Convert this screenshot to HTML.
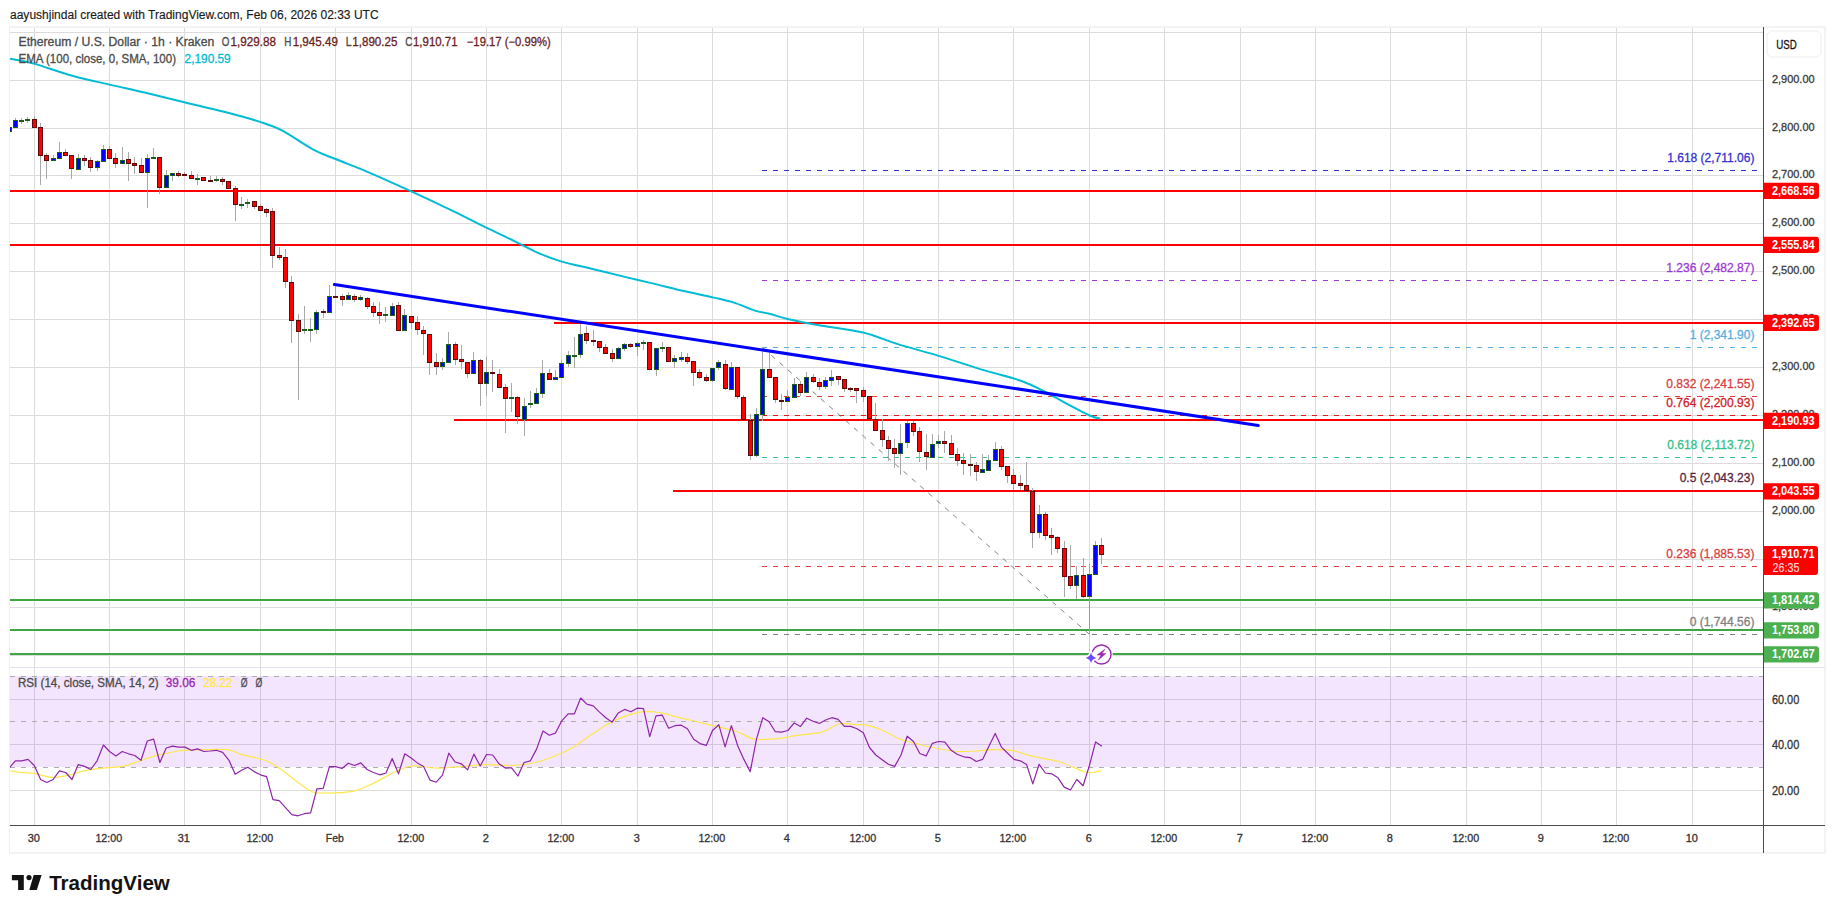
<!DOCTYPE html>
<html><head><meta charset="utf-8"><title>ETHUSD</title>
<style>html,body{margin:0;padding:0;background:#fff;width:1835px;height:913px;overflow:hidden} svg.chart{display:block;font-family:"Liberation Sans", sans-serif}</style>
</head><body>
<svg width="1835" height="913" viewBox="0 0 1835 913" class="chart"><rect x="0" y="0" width="1835" height="913" fill="#ffffff"/><rect x="9" y="26" width="1817" height="2" fill="#f3f3f3"/><rect x="9" y="852" width="1817" height="2" fill="#f3f3f3"/><rect x="9" y="26" width="1" height="828" fill="#f0f0f0"/><rect x="1824" y="26" width="2" height="828" fill="#f3f3f3"/><defs><clipPath id="cm"><rect x="10" y="28" width="1753" height="639"/></clipPath><clipPath id="cr"><rect x="10" y="668" width="1753" height="157"/></clipPath></defs><rect x="34" y="28" width="1" height="639" fill="#dcdcdc"/><rect x="34" y="668" width="1" height="157" fill="#dcdcdc"/><rect x="109" y="28" width="1" height="639" fill="#dcdcdc"/><rect x="109" y="668" width="1" height="157" fill="#dcdcdc"/><rect x="184" y="28" width="1" height="639" fill="#dcdcdc"/><rect x="184" y="668" width="1" height="157" fill="#dcdcdc"/><rect x="260" y="28" width="1" height="639" fill="#dcdcdc"/><rect x="260" y="668" width="1" height="157" fill="#dcdcdc"/><rect x="335" y="28" width="1" height="639" fill="#dcdcdc"/><rect x="335" y="668" width="1" height="157" fill="#dcdcdc"/><rect x="411" y="28" width="1" height="639" fill="#dcdcdc"/><rect x="411" y="668" width="1" height="157" fill="#dcdcdc"/><rect x="486" y="28" width="1" height="639" fill="#dcdcdc"/><rect x="486" y="668" width="1" height="157" fill="#dcdcdc"/><rect x="561" y="28" width="1" height="639" fill="#dcdcdc"/><rect x="561" y="668" width="1" height="157" fill="#dcdcdc"/><rect x="637" y="28" width="1" height="639" fill="#dcdcdc"/><rect x="637" y="668" width="1" height="157" fill="#dcdcdc"/><rect x="712" y="28" width="1" height="639" fill="#dcdcdc"/><rect x="712" y="668" width="1" height="157" fill="#dcdcdc"/><rect x="787" y="28" width="1" height="639" fill="#dcdcdc"/><rect x="787" y="668" width="1" height="157" fill="#dcdcdc"/><rect x="863" y="28" width="1" height="639" fill="#dcdcdc"/><rect x="863" y="668" width="1" height="157" fill="#dcdcdc"/><rect x="938" y="28" width="1" height="639" fill="#dcdcdc"/><rect x="938" y="668" width="1" height="157" fill="#dcdcdc"/><rect x="1013" y="28" width="1" height="639" fill="#dcdcdc"/><rect x="1013" y="668" width="1" height="157" fill="#dcdcdc"/><rect x="1089" y="28" width="1" height="639" fill="#dcdcdc"/><rect x="1089" y="668" width="1" height="157" fill="#dcdcdc"/><rect x="1164" y="28" width="1" height="639" fill="#dcdcdc"/><rect x="1164" y="668" width="1" height="157" fill="#dcdcdc"/><rect x="1240" y="28" width="1" height="639" fill="#dcdcdc"/><rect x="1240" y="668" width="1" height="157" fill="#dcdcdc"/><rect x="1315" y="28" width="1" height="639" fill="#dcdcdc"/><rect x="1315" y="668" width="1" height="157" fill="#dcdcdc"/><rect x="1390" y="28" width="1" height="639" fill="#dcdcdc"/><rect x="1390" y="668" width="1" height="157" fill="#dcdcdc"/><rect x="1466" y="28" width="1" height="639" fill="#dcdcdc"/><rect x="1466" y="668" width="1" height="157" fill="#dcdcdc"/><rect x="1541" y="28" width="1" height="639" fill="#dcdcdc"/><rect x="1541" y="668" width="1" height="157" fill="#dcdcdc"/><rect x="1616" y="28" width="1" height="639" fill="#dcdcdc"/><rect x="1616" y="668" width="1" height="157" fill="#dcdcdc"/><rect x="1692" y="28" width="1" height="639" fill="#dcdcdc"/><rect x="1692" y="668" width="1" height="157" fill="#dcdcdc"/><rect x="10" y="32" width="1753" height="1" fill="#dcdcdc"/><rect x="10" y="80" width="1753" height="1" fill="#dcdcdc"/><rect x="10" y="128" width="1753" height="1" fill="#dcdcdc"/><rect x="10" y="175" width="1753" height="1" fill="#dcdcdc"/><rect x="10" y="223" width="1753" height="1" fill="#dcdcdc"/><rect x="10" y="271" width="1753" height="1" fill="#dcdcdc"/><rect x="10" y="319" width="1753" height="1" fill="#dcdcdc"/><rect x="10" y="367" width="1753" height="1" fill="#dcdcdc"/><rect x="10" y="415" width="1753" height="1" fill="#dcdcdc"/><rect x="10" y="463" width="1753" height="1" fill="#dcdcdc"/><rect x="10" y="511" width="1753" height="1" fill="#dcdcdc"/><rect x="10" y="559" width="1753" height="1" fill="#dcdcdc"/><rect x="10" y="607" width="1753" height="1" fill="#dcdcdc"/><rect x="10" y="655" width="1753" height="1" fill="#dcdcdc"/><rect x="10" y="699" width="1753" height="1" fill="#dcdcdc"/><rect x="10" y="744" width="1753" height="1" fill="#dcdcdc"/><rect x="10" y="790" width="1753" height="1" fill="#dcdcdc"/><rect x="10" y="676" width="1753" height="91" fill="#9500ff" fill-opacity="0.1"/><line x1="10" y1="676.5" x2="1763" y2="676.5" stroke="#adadad" stroke-width="1" stroke-dasharray="5,6"/><line x1="10" y1="721.5" x2="1763" y2="721.5" stroke="#adadad" stroke-width="1" stroke-dasharray="5,6"/><line x1="10" y1="767.5" x2="1763" y2="767.5" stroke="#adadad" stroke-width="1" stroke-dasharray="5,6"/><rect x="10" y="667" width="1815" height="1" fill="#e0e3eb"/><line x1="762" y1="170.5" x2="1757" y2="170.5" stroke="#3333cc" stroke-width="1" stroke-dasharray="5,6"/><line x1="762" y1="280.5" x2="1757" y2="280.5" stroke="#9c3ad6" stroke-width="1" stroke-dasharray="5,6"/><line x1="762" y1="347.5" x2="1757" y2="347.5" stroke="#5aaee0" stroke-width="1" stroke-dasharray="5,6"/><line x1="762" y1="396.5" x2="1757" y2="396.5" stroke="#e03c3c" stroke-width="1" stroke-dasharray="5,6"/><line x1="762" y1="415.5" x2="1757" y2="415.5" stroke="#e01e1e" stroke-width="1" stroke-dasharray="5,6"/><line x1="762" y1="457.5" x2="1757" y2="457.5" stroke="#33c28a" stroke-width="1" stroke-dasharray="5,6"/><line x1="762" y1="490.5" x2="1757" y2="490.5" stroke="#6a1f4a" stroke-width="1" stroke-dasharray="5,6"/><line x1="762" y1="566.5" x2="1757" y2="566.5" stroke="#e03c3c" stroke-width="1" stroke-dasharray="5,6"/><line x1="762" y1="634.5" x2="1757" y2="634.5" stroke="#808080" stroke-width="1" stroke-dasharray="5,6"/><rect x="10" y="190" width="1753" height="2" fill="#ff0000"/><rect x="10" y="244" width="1753" height="2" fill="#ff0000"/><rect x="554" y="322" width="1209" height="2" fill="#ff0000"/><rect x="454" y="419" width="1309" height="2" fill="#ff0000"/><rect x="673" y="490" width="1090" height="2" fill="#ff0000"/><rect x="10" y="599" width="1753" height="2" fill="#3da843"/><rect x="10" y="629" width="1753" height="2" fill="#3da843"/><rect x="10" y="653" width="1753" height="2" fill="#3da843"/><line x1="763" y1="348" x2="1089" y2="634" stroke="#808080" stroke-width="1" stroke-dasharray="5,6"/><path d="M10.10,58.80 C14.03,59.60 23.33,60.78 33.70,63.60 C44.07,66.42 59.65,72.20 72.30,75.70 C84.95,79.20 97.55,81.80 109.60,84.60 C121.65,87.40 132.15,89.57 144.60,92.50 C157.05,95.43 171.05,98.98 184.30,102.20 C197.55,105.42 211.45,108.52 224.10,111.80 C236.75,115.08 250.57,118.80 260.20,121.90 C269.83,125.00 273.05,125.78 281.90,130.40 C290.75,135.02 304.27,144.78 313.30,149.60 C322.33,154.42 327.27,155.68 336.10,159.30 C344.93,162.92 354.05,166.08 366.30,171.30 C378.55,176.52 395.03,183.93 409.60,190.60 C424.17,197.27 441.52,205.43 453.70,211.30 C465.88,217.17 473.87,221.47 482.70,225.80 C491.53,230.13 497.87,232.97 506.70,237.30 C515.53,241.63 526.65,247.78 535.70,251.80 C544.75,255.82 551.37,258.50 561.00,261.40 C570.63,264.30 582.87,266.62 593.50,269.20 C604.13,271.78 615.17,274.58 624.80,276.90 C634.43,279.22 641.27,280.70 651.30,283.10 C661.33,285.50 674.55,288.88 685.00,291.30 C695.45,293.72 705.95,295.75 714.00,297.60 C722.05,299.45 726.48,300.23 733.30,302.40 C740.12,304.57 748.88,308.72 754.90,310.60 C760.92,312.48 763.77,312.25 769.40,313.70 C775.03,315.15 780.67,317.40 788.70,319.30 C796.73,321.20 805.23,322.90 817.60,325.10 C829.97,327.30 849.53,329.33 862.90,332.50 C876.27,335.67 884.75,340.08 897.80,344.10 C910.85,348.12 926.73,352.22 941.20,356.60 C955.67,360.98 971.35,366.38 984.60,370.40 C997.85,374.42 1010.67,377.17 1020.70,380.70 C1030.73,384.23 1037.17,387.78 1044.80,391.60 C1052.43,395.42 1059.02,399.62 1066.50,403.60 C1073.98,407.58 1084.10,413.00 1089.70,415.50 C1095.30,418.00 1098.37,418.08 1100.10,418.60" fill="none" stroke="#00bcd4" stroke-width="2" stroke-linejoin="round" clip-path="url(#cm)"/><g clip-path="url(#cm)"><rect x="9" y="127" width="1" height="5" fill="#a8a8a8"/><rect x="7" y="127" width="5" height="5" fill="#1b5e20"/><rect x="8" y="128" width="3" height="3" fill="#0000ff"/><rect x="15" y="118" width="1" height="10" fill="#a8a8a8"/><rect x="13" y="120" width="5" height="8" fill="#1b5e20"/><rect x="14" y="121" width="3" height="6" fill="#0000ff"/><rect x="21" y="118" width="1" height="6" fill="#a8a8a8"/><rect x="19" y="120" width="5" height="2" fill="#1b5e20"/><rect x="27" y="117" width="1" height="6" fill="#a8a8a8"/><rect x="25" y="119" width="5" height="2" fill="#1b5e20"/><rect x="34" y="116" width="1" height="12" fill="#a8a8a8"/><rect x="32" y="119" width="5" height="9" fill="#5c0a0a"/><rect x="33" y="120" width="3" height="7" fill="#ff0000"/><rect x="40" y="123" width="1" height="62" fill="#a8a8a8"/><rect x="38" y="127" width="5" height="29" fill="#5c0a0a"/><rect x="39" y="128" width="3" height="27" fill="#ff0000"/><rect x="46" y="153" width="1" height="26" fill="#a8a8a8"/><rect x="44" y="155" width="5" height="6" fill="#5c0a0a"/><rect x="45" y="156" width="3" height="4" fill="#ff0000"/><rect x="53" y="155" width="1" height="6" fill="#a8a8a8"/><rect x="51" y="158" width="5" height="3" fill="#1b5e20"/><rect x="52" y="159" width="3" height="1" fill="#0000ff"/><rect x="59" y="142" width="1" height="17" fill="#a8a8a8"/><rect x="57" y="152" width="5" height="7" fill="#1b5e20"/><rect x="58" y="153" width="3" height="5" fill="#0000ff"/><rect x="65" y="149" width="1" height="6" fill="#a8a8a8"/><rect x="63" y="152" width="5" height="4" fill="#5c0a0a"/><rect x="64" y="153" width="3" height="2" fill="#ff0000"/><rect x="71" y="155" width="1" height="24" fill="#a8a8a8"/><rect x="69" y="155" width="5" height="14" fill="#5c0a0a"/><rect x="70" y="156" width="3" height="12" fill="#ff0000"/><rect x="78" y="154" width="1" height="16" fill="#a8a8a8"/><rect x="76" y="158" width="5" height="12" fill="#1b5e20"/><rect x="77" y="159" width="3" height="10" fill="#0000ff"/><rect x="84" y="155" width="1" height="11" fill="#a8a8a8"/><rect x="82" y="158" width="5" height="3" fill="#5c0a0a"/><rect x="83" y="159" width="3" height="1" fill="#ff0000"/><rect x="90" y="157" width="1" height="15" fill="#a8a8a8"/><rect x="88" y="160" width="5" height="8" fill="#5c0a0a"/><rect x="89" y="161" width="3" height="6" fill="#ff0000"/><rect x="97" y="160" width="1" height="11" fill="#a8a8a8"/><rect x="95" y="161" width="5" height="7" fill="#1b5e20"/><rect x="96" y="162" width="3" height="5" fill="#0000ff"/><rect x="103" y="145" width="1" height="17" fill="#a8a8a8"/><rect x="101" y="149" width="5" height="13" fill="#1b5e20"/><rect x="102" y="150" width="3" height="11" fill="#0000ff"/><rect x="109" y="146" width="1" height="13" fill="#a8a8a8"/><rect x="107" y="149" width="5" height="10" fill="#5c0a0a"/><rect x="108" y="150" width="3" height="8" fill="#ff0000"/><rect x="115" y="153" width="1" height="15" fill="#a8a8a8"/><rect x="113" y="158" width="5" height="6" fill="#5c0a0a"/><rect x="114" y="159" width="3" height="4" fill="#ff0000"/><rect x="122" y="147" width="1" height="17" fill="#a8a8a8"/><rect x="120" y="160" width="5" height="4" fill="#1b5e20"/><rect x="121" y="161" width="3" height="2" fill="#0000ff"/><rect x="128" y="152" width="1" height="29" fill="#a8a8a8"/><rect x="126" y="159" width="5" height="5" fill="#5c0a0a"/><rect x="127" y="160" width="3" height="3" fill="#ff0000"/><rect x="134" y="157" width="1" height="17" fill="#a8a8a8"/><rect x="132" y="163" width="5" height="3" fill="#5c0a0a"/><rect x="133" y="164" width="3" height="1" fill="#ff0000"/><rect x="141" y="158" width="1" height="15" fill="#a8a8a8"/><rect x="139" y="165" width="5" height="8" fill="#5c0a0a"/><rect x="140" y="166" width="3" height="6" fill="#ff0000"/><rect x="147" y="154" width="1" height="54" fill="#a8a8a8"/><rect x="145" y="158" width="5" height="15" fill="#1b5e20"/><rect x="146" y="159" width="3" height="13" fill="#0000ff"/><rect x="153" y="148" width="1" height="11" fill="#a8a8a8"/><rect x="151" y="157" width="5" height="2" fill="#1b5e20"/><rect x="159" y="157" width="1" height="37" fill="#a8a8a8"/><rect x="157" y="157" width="5" height="31" fill="#5c0a0a"/><rect x="158" y="158" width="3" height="29" fill="#ff0000"/><rect x="166" y="170" width="1" height="18" fill="#a8a8a8"/><rect x="164" y="175" width="5" height="13" fill="#1b5e20"/><rect x="165" y="176" width="3" height="11" fill="#0000ff"/><rect x="172" y="173" width="1" height="8" fill="#a8a8a8"/><rect x="170" y="173" width="5" height="3" fill="#1b5e20"/><rect x="171" y="174" width="3" height="1" fill="#0000ff"/><rect x="178" y="171" width="1" height="6" fill="#a8a8a8"/><rect x="176" y="173" width="5" height="3" fill="#5c0a0a"/><rect x="177" y="174" width="3" height="1" fill="#ff0000"/><rect x="184" y="172" width="1" height="4" fill="#a8a8a8"/><rect x="182" y="174" width="5" height="2" fill="#5c0a0a"/><rect x="191" y="171" width="1" height="8" fill="#a8a8a8"/><rect x="189" y="175" width="5" height="4" fill="#5c0a0a"/><rect x="190" y="176" width="3" height="2" fill="#ff0000"/><rect x="197" y="174" width="1" height="11" fill="#a8a8a8"/><rect x="195" y="178" width="5" height="2" fill="#1b5e20"/><rect x="203" y="177" width="1" height="4" fill="#a8a8a8"/><rect x="201" y="177" width="5" height="4" fill="#5c0a0a"/><rect x="202" y="178" width="3" height="2" fill="#ff0000"/><rect x="210" y="176" width="1" height="5" fill="#a8a8a8"/><rect x="208" y="180" width="5" height="2" fill="#5c0a0a"/><rect x="216" y="176" width="1" height="6" fill="#a8a8a8"/><rect x="214" y="179" width="5" height="2" fill="#1b5e20"/><rect x="222" y="177" width="1" height="8" fill="#a8a8a8"/><rect x="220" y="179" width="5" height="3" fill="#5c0a0a"/><rect x="221" y="180" width="3" height="1" fill="#ff0000"/><rect x="228" y="181" width="1" height="8" fill="#a8a8a8"/><rect x="226" y="181" width="5" height="8" fill="#5c0a0a"/><rect x="227" y="182" width="3" height="6" fill="#ff0000"/><rect x="235" y="186" width="1" height="35" fill="#a8a8a8"/><rect x="233" y="188" width="5" height="17" fill="#5c0a0a"/><rect x="234" y="189" width="3" height="15" fill="#ff0000"/><rect x="241" y="197" width="1" height="12" fill="#a8a8a8"/><rect x="239" y="204" width="5" height="2" fill="#1b5e20"/><rect x="247" y="199" width="1" height="9" fill="#a8a8a8"/><rect x="245" y="202" width="5" height="2" fill="#1b5e20"/><rect x="254" y="201" width="1" height="8" fill="#a8a8a8"/><rect x="252" y="201" width="5" height="6" fill="#5c0a0a"/><rect x="253" y="202" width="3" height="4" fill="#ff0000"/><rect x="260" y="204" width="1" height="7" fill="#a8a8a8"/><rect x="258" y="206" width="5" height="5" fill="#5c0a0a"/><rect x="259" y="207" width="3" height="3" fill="#ff0000"/><rect x="266" y="208" width="1" height="9" fill="#a8a8a8"/><rect x="264" y="209" width="5" height="4" fill="#5c0a0a"/><rect x="265" y="210" width="3" height="2" fill="#ff0000"/><rect x="272" y="208" width="1" height="60" fill="#a8a8a8"/><rect x="270" y="211" width="5" height="45" fill="#5c0a0a"/><rect x="271" y="212" width="3" height="43" fill="#ff0000"/><rect x="279" y="247" width="1" height="13" fill="#a8a8a8"/><rect x="277" y="255" width="5" height="3" fill="#5c0a0a"/><rect x="278" y="256" width="3" height="1" fill="#ff0000"/><rect x="285" y="249" width="1" height="39" fill="#a8a8a8"/><rect x="283" y="257" width="5" height="25" fill="#5c0a0a"/><rect x="284" y="258" width="3" height="23" fill="#ff0000"/><rect x="291" y="276" width="1" height="67" fill="#a8a8a8"/><rect x="289" y="282" width="5" height="39" fill="#5c0a0a"/><rect x="290" y="283" width="3" height="37" fill="#ff0000"/><rect x="298" y="314" width="1" height="86" fill="#a8a8a8"/><rect x="296" y="320" width="5" height="12" fill="#5c0a0a"/><rect x="297" y="321" width="3" height="10" fill="#ff0000"/><rect x="304" y="306" width="1" height="28" fill="#a8a8a8"/><rect x="302" y="329" width="5" height="2" fill="#1b5e20"/><rect x="310" y="318" width="1" height="24" fill="#a8a8a8"/><rect x="308" y="329" width="5" height="2" fill="#1b5e20"/><rect x="316" y="310" width="1" height="24" fill="#a8a8a8"/><rect x="314" y="312" width="5" height="18" fill="#1b5e20"/><rect x="315" y="313" width="3" height="16" fill="#0000ff"/><rect x="323" y="309" width="1" height="9" fill="#a8a8a8"/><rect x="321" y="311" width="5" height="2" fill="#5c0a0a"/><rect x="329" y="285" width="1" height="28" fill="#a8a8a8"/><rect x="327" y="296" width="5" height="17" fill="#1b5e20"/><rect x="328" y="297" width="3" height="15" fill="#0000ff"/><rect x="335" y="285" width="1" height="12" fill="#a8a8a8"/><rect x="333" y="296" width="5" height="2" fill="#5c0a0a"/><rect x="342" y="294" width="1" height="12" fill="#a8a8a8"/><rect x="340" y="296" width="5" height="4" fill="#5c0a0a"/><rect x="341" y="297" width="3" height="2" fill="#ff0000"/><rect x="348" y="292" width="1" height="8" fill="#a8a8a8"/><rect x="346" y="295" width="5" height="5" fill="#1b5e20"/><rect x="347" y="296" width="3" height="3" fill="#0000ff"/><rect x="354" y="294" width="1" height="8" fill="#a8a8a8"/><rect x="352" y="296" width="5" height="4" fill="#5c0a0a"/><rect x="353" y="297" width="3" height="2" fill="#ff0000"/><rect x="360" y="295" width="1" height="6" fill="#a8a8a8"/><rect x="358" y="297" width="5" height="3" fill="#1b5e20"/><rect x="359" y="298" width="3" height="1" fill="#0000ff"/><rect x="367" y="297" width="1" height="12" fill="#a8a8a8"/><rect x="365" y="298" width="5" height="9" fill="#5c0a0a"/><rect x="366" y="299" width="3" height="7" fill="#ff0000"/><rect x="373" y="302" width="1" height="15" fill="#a8a8a8"/><rect x="371" y="306" width="5" height="7" fill="#5c0a0a"/><rect x="372" y="307" width="3" height="5" fill="#ff0000"/><rect x="379" y="302" width="1" height="22" fill="#a8a8a8"/><rect x="377" y="312" width="5" height="4" fill="#5c0a0a"/><rect x="378" y="313" width="3" height="2" fill="#ff0000"/><rect x="385" y="307" width="1" height="15" fill="#a8a8a8"/><rect x="383" y="314" width="5" height="2" fill="#1b5e20"/><rect x="392" y="303" width="1" height="13" fill="#a8a8a8"/><rect x="390" y="306" width="5" height="10" fill="#1b5e20"/><rect x="391" y="307" width="3" height="8" fill="#0000ff"/><rect x="398" y="302" width="1" height="29" fill="#a8a8a8"/><rect x="396" y="305" width="5" height="26" fill="#5c0a0a"/><rect x="397" y="306" width="3" height="24" fill="#ff0000"/><rect x="404" y="309" width="1" height="22" fill="#a8a8a8"/><rect x="402" y="315" width="5" height="16" fill="#1b5e20"/><rect x="403" y="316" width="3" height="14" fill="#0000ff"/><rect x="411" y="316" width="1" height="13" fill="#a8a8a8"/><rect x="409" y="316" width="5" height="7" fill="#5c0a0a"/><rect x="410" y="317" width="3" height="5" fill="#ff0000"/><rect x="417" y="316" width="1" height="19" fill="#a8a8a8"/><rect x="415" y="322" width="5" height="8" fill="#5c0a0a"/><rect x="416" y="323" width="3" height="6" fill="#ff0000"/><rect x="423" y="326" width="1" height="29" fill="#a8a8a8"/><rect x="421" y="330" width="5" height="4" fill="#5c0a0a"/><rect x="422" y="331" width="3" height="2" fill="#ff0000"/><rect x="429" y="334" width="1" height="41" fill="#a8a8a8"/><rect x="427" y="334" width="5" height="29" fill="#5c0a0a"/><rect x="428" y="335" width="3" height="27" fill="#ff0000"/><rect x="436" y="353" width="1" height="22" fill="#a8a8a8"/><rect x="434" y="362" width="5" height="5" fill="#5c0a0a"/><rect x="435" y="363" width="3" height="3" fill="#ff0000"/><rect x="442" y="358" width="1" height="12" fill="#a8a8a8"/><rect x="440" y="362" width="5" height="5" fill="#1b5e20"/><rect x="441" y="363" width="3" height="3" fill="#0000ff"/><rect x="448" y="332" width="1" height="30" fill="#a8a8a8"/><rect x="446" y="344" width="5" height="19" fill="#1b5e20"/><rect x="447" y="345" width="3" height="17" fill="#0000ff"/><rect x="455" y="342" width="1" height="23" fill="#a8a8a8"/><rect x="453" y="344" width="5" height="16" fill="#5c0a0a"/><rect x="454" y="345" width="3" height="14" fill="#ff0000"/><rect x="461" y="345" width="1" height="24" fill="#a8a8a8"/><rect x="459" y="359" width="5" height="3" fill="#5c0a0a"/><rect x="460" y="360" width="3" height="1" fill="#ff0000"/><rect x="467" y="362" width="1" height="16" fill="#a8a8a8"/><rect x="465" y="362" width="5" height="12" fill="#5c0a0a"/><rect x="466" y="363" width="3" height="10" fill="#ff0000"/><rect x="473" y="352" width="1" height="22" fill="#a8a8a8"/><rect x="471" y="360" width="5" height="14" fill="#1b5e20"/><rect x="472" y="361" width="3" height="12" fill="#0000ff"/><rect x="480" y="359" width="1" height="47" fill="#a8a8a8"/><rect x="478" y="360" width="5" height="24" fill="#5c0a0a"/><rect x="479" y="361" width="3" height="22" fill="#ff0000"/><rect x="486" y="357" width="1" height="39" fill="#a8a8a8"/><rect x="484" y="372" width="5" height="12" fill="#1b5e20"/><rect x="485" y="373" width="3" height="10" fill="#0000ff"/><rect x="492" y="360" width="1" height="32" fill="#a8a8a8"/><rect x="490" y="372" width="5" height="2" fill="#5c0a0a"/><rect x="499" y="369" width="1" height="18" fill="#a8a8a8"/><rect x="497" y="374" width="5" height="14" fill="#5c0a0a"/><rect x="498" y="375" width="3" height="12" fill="#ff0000"/><rect x="505" y="384" width="1" height="49" fill="#a8a8a8"/><rect x="503" y="387" width="5" height="12" fill="#5c0a0a"/><rect x="504" y="388" width="3" height="10" fill="#ff0000"/><rect x="511" y="383" width="1" height="29" fill="#a8a8a8"/><rect x="509" y="397" width="5" height="2" fill="#1b5e20"/><rect x="517" y="396" width="1" height="28" fill="#a8a8a8"/><rect x="515" y="397" width="5" height="20" fill="#5c0a0a"/><rect x="516" y="398" width="3" height="18" fill="#ff0000"/><rect x="524" y="398" width="1" height="38" fill="#a8a8a8"/><rect x="522" y="406" width="5" height="14" fill="#1b5e20"/><rect x="523" y="407" width="3" height="12" fill="#0000ff"/><rect x="530" y="391" width="1" height="17" fill="#a8a8a8"/><rect x="528" y="403" width="5" height="2" fill="#1b5e20"/><rect x="536" y="388" width="1" height="16" fill="#a8a8a8"/><rect x="534" y="393" width="5" height="11" fill="#1b5e20"/><rect x="535" y="394" width="3" height="9" fill="#0000ff"/><rect x="542" y="360" width="1" height="38" fill="#a8a8a8"/><rect x="540" y="373" width="5" height="21" fill="#1b5e20"/><rect x="541" y="374" width="3" height="19" fill="#0000ff"/><rect x="549" y="369" width="1" height="11" fill="#a8a8a8"/><rect x="547" y="373" width="5" height="7" fill="#5c0a0a"/><rect x="548" y="374" width="3" height="5" fill="#ff0000"/><rect x="555" y="370" width="1" height="10" fill="#a8a8a8"/><rect x="553" y="377" width="5" height="3" fill="#1b5e20"/><rect x="554" y="378" width="3" height="1" fill="#0000ff"/><rect x="561" y="360" width="1" height="18" fill="#a8a8a8"/><rect x="559" y="363" width="5" height="15" fill="#1b5e20"/><rect x="560" y="364" width="3" height="13" fill="#0000ff"/><rect x="568" y="351" width="1" height="16" fill="#a8a8a8"/><rect x="566" y="355" width="5" height="9" fill="#1b5e20"/><rect x="567" y="356" width="3" height="7" fill="#0000ff"/><rect x="574" y="337" width="1" height="31" fill="#a8a8a8"/><rect x="572" y="355" width="5" height="2" fill="#1b5e20"/><rect x="580" y="324" width="1" height="34" fill="#a8a8a8"/><rect x="578" y="334" width="5" height="21" fill="#1b5e20"/><rect x="579" y="335" width="3" height="19" fill="#0000ff"/><rect x="586" y="326" width="1" height="18" fill="#a8a8a8"/><rect x="584" y="333" width="5" height="8" fill="#5c0a0a"/><rect x="585" y="334" width="3" height="6" fill="#ff0000"/><rect x="593" y="330" width="1" height="16" fill="#a8a8a8"/><rect x="591" y="340" width="5" height="2" fill="#5c0a0a"/><rect x="599" y="341" width="1" height="11" fill="#a8a8a8"/><rect x="597" y="341" width="5" height="7" fill="#5c0a0a"/><rect x="598" y="342" width="3" height="5" fill="#ff0000"/><rect x="605" y="344" width="1" height="10" fill="#a8a8a8"/><rect x="603" y="347" width="5" height="7" fill="#5c0a0a"/><rect x="604" y="348" width="3" height="5" fill="#ff0000"/><rect x="612" y="349" width="1" height="13" fill="#a8a8a8"/><rect x="610" y="353" width="5" height="6" fill="#5c0a0a"/><rect x="611" y="354" width="3" height="4" fill="#ff0000"/><rect x="618" y="347" width="1" height="12" fill="#a8a8a8"/><rect x="616" y="348" width="5" height="11" fill="#1b5e20"/><rect x="617" y="349" width="3" height="9" fill="#0000ff"/><rect x="624" y="343" width="1" height="8" fill="#a8a8a8"/><rect x="622" y="344" width="5" height="5" fill="#1b5e20"/><rect x="623" y="345" width="3" height="3" fill="#0000ff"/><rect x="630" y="343" width="1" height="5" fill="#a8a8a8"/><rect x="628" y="344" width="5" height="3" fill="#5c0a0a"/><rect x="629" y="345" width="3" height="1" fill="#ff0000"/><rect x="637" y="342" width="1" height="14" fill="#a8a8a8"/><rect x="635" y="343" width="5" height="4" fill="#1b5e20"/><rect x="636" y="344" width="3" height="2" fill="#0000ff"/><rect x="643" y="340" width="1" height="10" fill="#a8a8a8"/><rect x="641" y="342" width="5" height="2" fill="#1b5e20"/><rect x="649" y="342" width="1" height="28" fill="#a8a8a8"/><rect x="647" y="342" width="5" height="28" fill="#5c0a0a"/><rect x="648" y="343" width="3" height="26" fill="#ff0000"/><rect x="656" y="348" width="1" height="28" fill="#a8a8a8"/><rect x="654" y="348" width="5" height="22" fill="#1b5e20"/><rect x="655" y="349" width="3" height="20" fill="#0000ff"/><rect x="662" y="342" width="1" height="10" fill="#a8a8a8"/><rect x="660" y="347" width="5" height="2" fill="#1b5e20"/><rect x="668" y="347" width="1" height="15" fill="#a8a8a8"/><rect x="666" y="347" width="5" height="15" fill="#5c0a0a"/><rect x="667" y="348" width="3" height="13" fill="#ff0000"/><rect x="674" y="355" width="1" height="13" fill="#a8a8a8"/><rect x="672" y="358" width="5" height="4" fill="#1b5e20"/><rect x="673" y="359" width="3" height="2" fill="#0000ff"/><rect x="681" y="352" width="1" height="10" fill="#a8a8a8"/><rect x="679" y="357" width="5" height="3" fill="#1b5e20"/><rect x="680" y="358" width="3" height="1" fill="#0000ff"/><rect x="687" y="353" width="1" height="11" fill="#a8a8a8"/><rect x="685" y="357" width="5" height="5" fill="#5c0a0a"/><rect x="686" y="358" width="3" height="3" fill="#ff0000"/><rect x="693" y="361" width="1" height="25" fill="#a8a8a8"/><rect x="691" y="361" width="5" height="12" fill="#5c0a0a"/><rect x="692" y="362" width="3" height="10" fill="#ff0000"/><rect x="699" y="369" width="1" height="10" fill="#a8a8a8"/><rect x="697" y="372" width="5" height="6" fill="#5c0a0a"/><rect x="698" y="373" width="3" height="4" fill="#ff0000"/><rect x="706" y="374" width="1" height="8" fill="#a8a8a8"/><rect x="704" y="377" width="5" height="4" fill="#5c0a0a"/><rect x="705" y="378" width="3" height="2" fill="#ff0000"/><rect x="712" y="368" width="1" height="14" fill="#a8a8a8"/><rect x="710" y="368" width="5" height="13" fill="#1b5e20"/><rect x="711" y="369" width="3" height="11" fill="#0000ff"/><rect x="718" y="360" width="1" height="10" fill="#a8a8a8"/><rect x="716" y="362" width="5" height="6" fill="#1b5e20"/><rect x="717" y="363" width="3" height="4" fill="#0000ff"/><rect x="725" y="360" width="1" height="30" fill="#a8a8a8"/><rect x="723" y="364" width="5" height="25" fill="#5c0a0a"/><rect x="724" y="365" width="3" height="23" fill="#ff0000"/><rect x="731" y="362" width="1" height="28" fill="#a8a8a8"/><rect x="729" y="367" width="5" height="23" fill="#1b5e20"/><rect x="730" y="368" width="3" height="21" fill="#0000ff"/><rect x="737" y="367" width="1" height="32" fill="#a8a8a8"/><rect x="735" y="367" width="5" height="30" fill="#5c0a0a"/><rect x="736" y="368" width="3" height="28" fill="#ff0000"/><rect x="743" y="395" width="1" height="25" fill="#a8a8a8"/><rect x="741" y="397" width="5" height="23" fill="#5c0a0a"/><rect x="742" y="398" width="3" height="21" fill="#ff0000"/><rect x="750" y="414" width="1" height="46" fill="#a8a8a8"/><rect x="748" y="420" width="5" height="36" fill="#5c0a0a"/><rect x="749" y="421" width="3" height="34" fill="#ff0000"/><rect x="756" y="408" width="1" height="49" fill="#a8a8a8"/><rect x="754" y="414" width="5" height="42" fill="#1b5e20"/><rect x="755" y="415" width="3" height="40" fill="#0000ff"/><rect x="762" y="347" width="1" height="74" fill="#a8a8a8"/><rect x="760" y="369" width="5" height="46" fill="#1b5e20"/><rect x="761" y="370" width="3" height="44" fill="#0000ff"/><rect x="769" y="352" width="1" height="25" fill="#a8a8a8"/><rect x="767" y="369" width="5" height="9" fill="#5c0a0a"/><rect x="768" y="370" width="3" height="7" fill="#ff0000"/><rect x="775" y="377" width="1" height="26" fill="#a8a8a8"/><rect x="773" y="377" width="5" height="23" fill="#5c0a0a"/><rect x="774" y="378" width="3" height="21" fill="#ff0000"/><rect x="781" y="394" width="1" height="16" fill="#a8a8a8"/><rect x="779" y="400" width="5" height="2" fill="#5c0a0a"/><rect x="787" y="390" width="1" height="12" fill="#a8a8a8"/><rect x="785" y="397" width="5" height="5" fill="#1b5e20"/><rect x="786" y="398" width="3" height="3" fill="#0000ff"/><rect x="794" y="378" width="1" height="20" fill="#a8a8a8"/><rect x="792" y="384" width="5" height="14" fill="#1b5e20"/><rect x="793" y="385" width="3" height="12" fill="#0000ff"/><rect x="800" y="381" width="1" height="15" fill="#a8a8a8"/><rect x="798" y="384" width="5" height="9" fill="#5c0a0a"/><rect x="799" y="385" width="3" height="7" fill="#ff0000"/><rect x="806" y="372" width="1" height="20" fill="#a8a8a8"/><rect x="804" y="377" width="5" height="16" fill="#1b5e20"/><rect x="805" y="378" width="3" height="14" fill="#0000ff"/><rect x="813" y="374" width="1" height="9" fill="#a8a8a8"/><rect x="811" y="377" width="5" height="5" fill="#5c0a0a"/><rect x="812" y="378" width="3" height="3" fill="#ff0000"/><rect x="819" y="378" width="1" height="12" fill="#a8a8a8"/><rect x="817" y="382" width="5" height="5" fill="#5c0a0a"/><rect x="818" y="383" width="3" height="3" fill="#ff0000"/><rect x="825" y="377" width="1" height="12" fill="#a8a8a8"/><rect x="823" y="380" width="5" height="7" fill="#1b5e20"/><rect x="824" y="381" width="3" height="5" fill="#0000ff"/><rect x="831" y="370" width="1" height="16" fill="#a8a8a8"/><rect x="829" y="377" width="5" height="4" fill="#1b5e20"/><rect x="830" y="378" width="3" height="2" fill="#0000ff"/><rect x="838" y="376" width="1" height="9" fill="#a8a8a8"/><rect x="836" y="376" width="5" height="4" fill="#5c0a0a"/><rect x="837" y="377" width="3" height="2" fill="#ff0000"/><rect x="844" y="379" width="1" height="13" fill="#a8a8a8"/><rect x="842" y="379" width="5" height="10" fill="#5c0a0a"/><rect x="843" y="380" width="3" height="8" fill="#ff0000"/><rect x="850" y="387" width="1" height="5" fill="#a8a8a8"/><rect x="848" y="388" width="5" height="2" fill="#5c0a0a"/><rect x="856" y="388" width="1" height="15" fill="#a8a8a8"/><rect x="854" y="388" width="5" height="3" fill="#5c0a0a"/><rect x="855" y="389" width="3" height="1" fill="#ff0000"/><rect x="863" y="387" width="1" height="15" fill="#a8a8a8"/><rect x="861" y="390" width="5" height="7" fill="#5c0a0a"/><rect x="862" y="391" width="3" height="5" fill="#ff0000"/><rect x="869" y="396" width="1" height="23" fill="#a8a8a8"/><rect x="867" y="396" width="5" height="23" fill="#5c0a0a"/><rect x="868" y="397" width="3" height="21" fill="#ff0000"/><rect x="875" y="403" width="1" height="27" fill="#a8a8a8"/><rect x="873" y="419" width="5" height="12" fill="#5c0a0a"/><rect x="874" y="420" width="3" height="10" fill="#ff0000"/><rect x="882" y="419" width="1" height="28" fill="#a8a8a8"/><rect x="880" y="430" width="5" height="10" fill="#5c0a0a"/><rect x="881" y="431" width="3" height="8" fill="#ff0000"/><rect x="888" y="436" width="1" height="25" fill="#a8a8a8"/><rect x="886" y="440" width="5" height="9" fill="#5c0a0a"/><rect x="887" y="441" width="3" height="7" fill="#ff0000"/><rect x="894" y="439" width="1" height="29" fill="#a8a8a8"/><rect x="892" y="448" width="5" height="6" fill="#5c0a0a"/><rect x="893" y="449" width="3" height="4" fill="#ff0000"/><rect x="900" y="424" width="1" height="51" fill="#a8a8a8"/><rect x="898" y="443" width="5" height="11" fill="#1b5e20"/><rect x="899" y="444" width="3" height="9" fill="#0000ff"/><rect x="907" y="421" width="1" height="27" fill="#a8a8a8"/><rect x="905" y="423" width="5" height="20" fill="#1b5e20"/><rect x="906" y="424" width="3" height="18" fill="#0000ff"/><rect x="913" y="421" width="1" height="15" fill="#a8a8a8"/><rect x="911" y="423" width="5" height="9" fill="#5c0a0a"/><rect x="912" y="424" width="3" height="7" fill="#ff0000"/><rect x="919" y="427" width="1" height="35" fill="#a8a8a8"/><rect x="917" y="431" width="5" height="21" fill="#5c0a0a"/><rect x="918" y="432" width="3" height="19" fill="#ff0000"/><rect x="926" y="434" width="1" height="36" fill="#a8a8a8"/><rect x="924" y="452" width="5" height="5" fill="#5c0a0a"/><rect x="925" y="453" width="3" height="3" fill="#ff0000"/><rect x="932" y="434" width="1" height="23" fill="#a8a8a8"/><rect x="930" y="444" width="5" height="14" fill="#1b5e20"/><rect x="931" y="445" width="3" height="12" fill="#0000ff"/><rect x="938" y="435" width="1" height="13" fill="#a8a8a8"/><rect x="936" y="441" width="5" height="3" fill="#1b5e20"/><rect x="937" y="442" width="3" height="1" fill="#0000ff"/><rect x="944" y="431" width="1" height="22" fill="#a8a8a8"/><rect x="942" y="441" width="5" height="3" fill="#5c0a0a"/><rect x="943" y="442" width="3" height="1" fill="#ff0000"/><rect x="951" y="435" width="1" height="20" fill="#a8a8a8"/><rect x="949" y="443" width="5" height="12" fill="#5c0a0a"/><rect x="950" y="444" width="3" height="10" fill="#ff0000"/><rect x="957" y="448" width="1" height="18" fill="#a8a8a8"/><rect x="955" y="454" width="5" height="7" fill="#5c0a0a"/><rect x="956" y="455" width="3" height="5" fill="#ff0000"/><rect x="963" y="453" width="1" height="22" fill="#a8a8a8"/><rect x="961" y="460" width="5" height="4" fill="#5c0a0a"/><rect x="962" y="461" width="3" height="2" fill="#ff0000"/><rect x="970" y="454" width="1" height="22" fill="#a8a8a8"/><rect x="968" y="464" width="5" height="2" fill="#5c0a0a"/><rect x="976" y="462" width="1" height="19" fill="#a8a8a8"/><rect x="974" y="465" width="5" height="7" fill="#5c0a0a"/><rect x="975" y="466" width="3" height="5" fill="#ff0000"/><rect x="982" y="454" width="1" height="19" fill="#a8a8a8"/><rect x="980" y="469" width="5" height="4" fill="#1b5e20"/><rect x="981" y="470" width="3" height="2" fill="#0000ff"/><rect x="988" y="455" width="1" height="15" fill="#a8a8a8"/><rect x="986" y="460" width="5" height="11" fill="#1b5e20"/><rect x="987" y="461" width="3" height="9" fill="#0000ff"/><rect x="995" y="442" width="1" height="18" fill="#a8a8a8"/><rect x="993" y="449" width="5" height="12" fill="#1b5e20"/><rect x="994" y="450" width="3" height="10" fill="#0000ff"/><rect x="1001" y="446" width="1" height="24" fill="#a8a8a8"/><rect x="999" y="449" width="5" height="18" fill="#5c0a0a"/><rect x="1000" y="450" width="3" height="16" fill="#ff0000"/><rect x="1007" y="466" width="1" height="17" fill="#a8a8a8"/><rect x="1005" y="466" width="5" height="10" fill="#5c0a0a"/><rect x="1006" y="467" width="3" height="8" fill="#ff0000"/><rect x="1013" y="469" width="1" height="21" fill="#a8a8a8"/><rect x="1011" y="475" width="5" height="9" fill="#5c0a0a"/><rect x="1012" y="476" width="3" height="7" fill="#ff0000"/><rect x="1020" y="475" width="1" height="15" fill="#a8a8a8"/><rect x="1018" y="483" width="5" height="3" fill="#5c0a0a"/><rect x="1019" y="484" width="3" height="1" fill="#ff0000"/><rect x="1026" y="462" width="1" height="29" fill="#a8a8a8"/><rect x="1024" y="485" width="5" height="6" fill="#5c0a0a"/><rect x="1025" y="486" width="3" height="4" fill="#ff0000"/><rect x="1032" y="488" width="1" height="60" fill="#a8a8a8"/><rect x="1030" y="491" width="5" height="42" fill="#5c0a0a"/><rect x="1031" y="492" width="3" height="40" fill="#ff0000"/><rect x="1039" y="505" width="1" height="33" fill="#a8a8a8"/><rect x="1037" y="514" width="5" height="19" fill="#1b5e20"/><rect x="1038" y="515" width="3" height="17" fill="#0000ff"/><rect x="1045" y="512" width="1" height="28" fill="#a8a8a8"/><rect x="1043" y="514" width="5" height="22" fill="#5c0a0a"/><rect x="1044" y="515" width="3" height="20" fill="#ff0000"/><rect x="1051" y="528" width="1" height="27" fill="#a8a8a8"/><rect x="1049" y="535" width="5" height="3" fill="#5c0a0a"/><rect x="1050" y="536" width="3" height="1" fill="#ff0000"/><rect x="1057" y="536" width="1" height="17" fill="#a8a8a8"/><rect x="1055" y="537" width="5" height="12" fill="#5c0a0a"/><rect x="1056" y="538" width="3" height="10" fill="#ff0000"/><rect x="1064" y="541" width="1" height="56" fill="#a8a8a8"/><rect x="1062" y="548" width="5" height="29" fill="#5c0a0a"/><rect x="1063" y="549" width="3" height="27" fill="#ff0000"/><rect x="1070" y="545" width="1" height="44" fill="#a8a8a8"/><rect x="1068" y="576" width="5" height="10" fill="#5c0a0a"/><rect x="1069" y="577" width="3" height="8" fill="#ff0000"/><rect x="1076" y="566" width="1" height="33" fill="#a8a8a8"/><rect x="1074" y="575" width="5" height="11" fill="#1b5e20"/><rect x="1075" y="576" width="3" height="9" fill="#0000ff"/><rect x="1083" y="558" width="1" height="40" fill="#a8a8a8"/><rect x="1081" y="575" width="5" height="22" fill="#5c0a0a"/><rect x="1082" y="576" width="3" height="20" fill="#ff0000"/><rect x="1089" y="564" width="1" height="34" fill="#a8a8a8"/><rect x="1087" y="574" width="5" height="23" fill="#1b5e20"/><rect x="1088" y="575" width="3" height="21" fill="#0000ff"/><rect x="1095" y="541" width="1" height="33" fill="#a8a8a8"/><rect x="1093" y="545" width="5" height="30" fill="#1b5e20"/><rect x="1094" y="546" width="3" height="28" fill="#0000ff"/><rect x="1101" y="538" width="1" height="26" fill="#a8a8a8"/><rect x="1099" y="545" width="5" height="10" fill="#5c0a0a"/><rect x="1100" y="546" width="3" height="8" fill="#ff0000"/></g><line x1="334.4" y1="284.6" x2="1258.3" y2="425.6" stroke="#0000ff" stroke-width="3" stroke-linecap="round"/><rect x="1089" y="598" width="1" height="36" fill="#9a9a9a"/><rect x="1089" y="634" width="1" height="17" fill="#cccccc"/><g clip-path="url(#cr)"><path d="M10.50,770.80 C11.97,771.03 15.22,771.72 19.30,772.20 C23.38,772.68 29.45,772.83 35.00,773.70 C40.55,774.57 46.75,777.22 52.60,777.40 C58.45,777.58 64.85,775.90 70.10,774.80 C75.35,773.70 78.25,771.97 84.10,770.80 C89.95,769.63 98.77,768.53 105.20,767.80 C111.63,767.07 116.87,767.57 122.70,766.40 C128.53,765.23 134.95,762.50 140.20,760.80 C145.45,759.10 148.35,757.75 154.20,756.20 C160.05,754.65 170.33,752.48 175.30,751.50 C180.27,750.52 178.75,750.60 184.00,750.30 C189.25,750.00 199.50,749.80 206.80,749.70 C214.10,749.60 222.18,748.97 227.80,749.70 C233.42,750.43 234.30,752.33 240.50,754.10 C246.70,755.87 258.57,757.97 265.00,760.30 C271.43,762.63 271.78,763.15 279.10,768.10 C286.42,773.05 301.60,785.85 308.90,790.00 C316.20,794.15 315.60,792.78 322.90,793.00 C330.20,793.22 344.82,792.67 352.70,791.30 C360.58,789.93 362.90,788.13 370.20,784.80 C377.50,781.47 389.48,774.43 396.50,771.30 C403.52,768.17 405.58,766.53 412.30,766.00 C419.02,765.47 428.85,767.98 436.80,768.10 C444.75,768.22 451.75,767.28 460.00,766.70 C468.25,766.12 477.53,764.80 486.30,764.60 C495.07,764.40 504.42,765.85 512.60,765.50 C520.78,765.15 527.23,764.55 535.40,762.50 C543.57,760.45 554.88,756.00 561.60,753.20 C568.32,750.40 568.38,750.37 575.70,745.70 C583.02,741.03 597.33,730.08 605.50,725.20 C613.67,720.32 618.28,718.65 624.70,716.40 C631.12,714.15 637.87,712.28 644.00,711.70 C650.13,711.12 655.65,711.90 661.50,712.90 C667.35,713.90 674.35,716.52 679.10,717.70 C683.85,718.88 684.38,718.67 690.00,720.00 C695.62,721.33 704.92,723.75 712.80,725.70 C720.68,727.65 730.30,729.45 737.30,731.70 C744.30,733.95 748.08,738.03 754.80,739.20 C761.52,740.37 770.87,739.28 777.60,738.70 C784.33,738.12 787.90,736.78 795.20,735.70 C802.50,734.62 814.10,734.15 821.40,732.20 C828.70,730.25 833.15,725.25 839.00,724.00 C844.85,722.75 851.83,724.50 856.50,724.70 C861.17,724.90 862.62,724.23 867.00,725.20 C871.38,726.17 877.25,728.17 882.80,730.50 C888.35,732.83 894.47,736.95 900.30,739.20 C906.13,741.45 911.60,742.45 917.80,744.00 C924.00,745.55 930.70,747.25 937.50,748.50 C944.30,749.75 952.17,751.08 958.60,751.50 C965.03,751.92 970.27,751.30 976.10,751.00 C981.93,750.70 987.47,749.77 993.60,749.70 C999.73,749.63 1006.47,749.52 1012.90,750.60 C1019.33,751.68 1024.32,754.30 1032.20,756.20 C1040.08,758.10 1051.73,759.48 1060.20,762.00 C1068.67,764.52 1077.75,769.55 1083.00,771.30 C1088.25,773.05 1088.63,772.58 1091.70,772.50 C1094.77,772.42 1099.78,771.08 1101.40,770.80" fill="none" stroke="#fde74c" stroke-width="1.2" stroke-linejoin="round"/><polyline points="9.1,768.1 15.4,760.8 21.7,760.8 28.0,759.4 34.3,765.5 40.6,779.5 46.8,782.5 53.1,779.5 59.4,770.8 65.7,772.5 72.0,779.5 78.2,764.6 84.5,766.4 90.8,769.5 97.1,760.8 103.4,745.0 109.6,751.5 115.9,755.9 122.2,751.5 128.5,753.8 134.8,755.5 141.0,760.3 147.3,741.0 153.6,739.2 159.9,762.5 166.2,748.0 172.4,746.2 178.7,747.1 185.0,747.1 191.3,750.3 197.6,748.9 203.8,751.5 210.1,751.0 216.4,750.3 222.7,752.4 229.0,760.3 235.2,774.3 241.5,770.2 247.8,767.3 254.1,771.6 260.4,774.8 266.6,776.6 272.9,799.7 279.2,800.6 285.5,807.6 291.8,814.6 298.0,815.8 304.3,813.7 310.6,812.8 316.9,788.8 323.2,788.3 329.4,766.7 335.7,766.7 342.0,768.5 348.3,763.2 354.6,765.5 360.8,762.9 367.1,769.5 373.4,772.5 379.7,774.8 386.0,773.0 392.2,758.5 398.5,773.8 404.8,753.8 411.1,758.0 417.4,762.9 423.6,766.4 429.9,780.1 436.2,782.2 442.5,775.2 448.8,753.2 455.1,762.0 461.3,763.8 467.6,769.9 473.9,754.1 480.2,766.0 486.5,754.5 492.7,755.0 499.0,763.8 505.3,768.1 511.6,767.8 517.9,776.0 524.1,762.5 530.4,760.8 536.7,748.9 543.0,731.0 549.3,735.2 555.5,733.1 561.8,720.8 568.1,713.8 574.4,713.8 580.7,698.0 586.9,704.2 593.2,705.9 599.5,712.1 605.8,717.7 612.1,722.2 618.3,712.9 624.6,709.4 630.9,711.7 637.2,708.2 643.5,708.6 649.7,736.6 656.0,715.9 662.3,715.2 668.6,728.2 674.9,725.7 681.1,725.2 687.4,728.7 693.7,739.2 700.0,743.6 706.3,745.4 712.5,730.5 718.8,724.7 725.1,746.8 731.4,725.7 737.7,745.7 743.9,759.4 750.2,771.6 756.5,739.2 762.8,717.7 769.1,721.7 775.3,731.7 781.6,732.2 787.9,730.5 794.2,722.9 800.5,726.4 806.7,718.2 813.0,721.2 819.3,723.5 825.6,720.0 831.9,717.7 838.1,719.4 844.4,726.4 850.7,726.4 857.0,728.7 863.3,732.7 869.5,747.5 875.8,755.0 882.1,759.7 888.4,764.3 894.7,766.4 901.0,755.0 907.2,736.2 913.5,741.5 919.8,753.5 926.1,755.9 932.4,743.3 938.6,741.5 944.9,742.2 951.2,750.3 957.5,754.5 963.8,756.8 970.0,757.6 976.3,761.5 982.6,759.4 988.9,746.2 995.2,733.4 1001.4,747.1 1007.7,753.2 1014.0,759.4 1020.3,760.8 1026.6,764.6 1032.8,783.9 1039.1,764.3 1045.4,773.0 1051.7,773.8 1058.0,777.8 1064.2,787.1 1070.5,790.0 1076.8,779.5 1083.1,785.7 1089.4,765.5 1095.6,741.9 1101.9,746.2" fill="none" stroke="#8e24aa" stroke-width="1.2" stroke-linejoin="round"/></g><rect x="1763" y="27" width="1" height="826" fill="#4a4a4a"/><rect x="10" y="825" width="1815" height="1" fill="#4a4a4a"/><text x="10" y="19" font-size="12.5" fill="#1a1a1a" text-anchor="start" font-weight="normal" textLength="368.6" lengthAdjust="spacingAndGlyphs" stroke="#1a1a1a" stroke-width="0.15">aayushjindal created with TradingView.com, Feb 06, 2026 02:33 UTC</text><text x="18.5" y="45.7" font-size="12" fill="#4a4a4a" text-anchor="start" font-weight="normal" textLength="195.7" lengthAdjust="spacingAndGlyphs" stroke="#4a4a4a" stroke-width="0.3">Ethereum / U.S. Dollar · 1h · Kraken</text><text x="221.8" y="45.7" font-size="12" fill="#4a4a4a" text-anchor="start" font-weight="normal" textLength="7.6" lengthAdjust="spacingAndGlyphs" stroke="#4a4a4a" stroke-width="0.3">O</text><text x="230.4" y="45.7" font-size="12" fill="#6b1d1d" text-anchor="start" font-weight="normal" textLength="45.6" lengthAdjust="spacingAndGlyphs" stroke="#6b1d1d" stroke-width="0.3">1,929.88</text><text x="284.2" y="45.7" font-size="12" fill="#4a4a4a" text-anchor="start" font-weight="normal" textLength="7.1" lengthAdjust="spacingAndGlyphs" stroke="#4a4a4a" stroke-width="0.3">H</text><text x="292.7" y="45.7" font-size="12" fill="#6b1d1d" text-anchor="start" font-weight="normal" textLength="45.2" lengthAdjust="spacingAndGlyphs" stroke="#6b1d1d" stroke-width="0.3">1,945.49</text><text x="345.7" y="45.7" font-size="12" fill="#4a4a4a" text-anchor="start" font-weight="normal" textLength="5.9" lengthAdjust="spacingAndGlyphs" stroke="#4a4a4a" stroke-width="0.3">L</text><text x="352.3" y="45.7" font-size="12" fill="#6b1d1d" text-anchor="start" font-weight="normal" textLength="45.1" lengthAdjust="spacingAndGlyphs" stroke="#6b1d1d" stroke-width="0.3">1,890.25</text><text x="405.3" y="45.7" font-size="12" fill="#4a4a4a" text-anchor="start" font-weight="normal" textLength="7.2" lengthAdjust="spacingAndGlyphs" stroke="#4a4a4a" stroke-width="0.3">C</text><text x="413.0" y="45.7" font-size="12" fill="#6b1d1d" text-anchor="start" font-weight="normal" textLength="44.5" lengthAdjust="spacingAndGlyphs" stroke="#6b1d1d" stroke-width="0.3">1,910.71</text><text x="466.8" y="45.7" font-size="12" fill="#6b1d1d" text-anchor="start" font-weight="normal" textLength="83.9" lengthAdjust="spacingAndGlyphs" stroke="#6b1d1d" stroke-width="0.3">−19.17 (−0.99%)</text><text x="18.5" y="63.0" font-size="12" fill="#4a4a4a" text-anchor="start" font-weight="normal" textLength="157.5" lengthAdjust="spacingAndGlyphs" stroke="#4a4a4a" stroke-width="0.3">EMA (100, close, 0, SMA, 100)</text><text x="184.6" y="63.0" font-size="12" fill="#00bcd4" text-anchor="start" font-weight="normal" textLength="46.1" lengthAdjust="spacingAndGlyphs" stroke="#00bcd4" stroke-width="0.3">2,190.59</text><rect x="1767" y="31" width="54" height="26" rx="5" fill="#ffffff" stroke="#eeeeee" stroke-width="1"/><text x="1776.2" y="49" font-size="12.5" fill="#131313" text-anchor="start" font-weight="normal" textLength="20.5" lengthAdjust="spacingAndGlyphs" stroke="#131313" stroke-width="0.3">USD</text><text x="1771.9" y="83.1" font-size="11.3" fill="#3a3a3a" text-anchor="start" font-weight="normal" textLength="42.7" lengthAdjust="spacingAndGlyphs" stroke="#3a3a3a" stroke-width="0.3">2,900.00</text><text x="1771.9" y="131.1" font-size="11.3" fill="#3a3a3a" text-anchor="start" font-weight="normal" textLength="42.7" lengthAdjust="spacingAndGlyphs" stroke="#3a3a3a" stroke-width="0.3">2,800.00</text><text x="1771.9" y="178.1" font-size="11.3" fill="#3a3a3a" text-anchor="start" font-weight="normal" textLength="42.7" lengthAdjust="spacingAndGlyphs" stroke="#3a3a3a" stroke-width="0.3">2,700.00</text><text x="1771.9" y="226.1" font-size="11.3" fill="#3a3a3a" text-anchor="start" font-weight="normal" textLength="42.7" lengthAdjust="spacingAndGlyphs" stroke="#3a3a3a" stroke-width="0.3">2,600.00</text><text x="1771.9" y="274.1" font-size="11.3" fill="#3a3a3a" text-anchor="start" font-weight="normal" textLength="42.7" lengthAdjust="spacingAndGlyphs" stroke="#3a3a3a" stroke-width="0.3">2,500.00</text><text x="1771.9" y="322.1" font-size="11.3" fill="#3a3a3a" text-anchor="start" font-weight="normal" textLength="42.7" lengthAdjust="spacingAndGlyphs" stroke="#3a3a3a" stroke-width="0.3">2,400.00</text><text x="1771.9" y="370.1" font-size="11.3" fill="#3a3a3a" text-anchor="start" font-weight="normal" textLength="42.7" lengthAdjust="spacingAndGlyphs" stroke="#3a3a3a" stroke-width="0.3">2,300.00</text><text x="1771.9" y="418.1" font-size="11.3" fill="#3a3a3a" text-anchor="start" font-weight="normal" textLength="42.7" lengthAdjust="spacingAndGlyphs" stroke="#3a3a3a" stroke-width="0.3">2,200.00</text><text x="1771.9" y="466.1" font-size="11.3" fill="#3a3a3a" text-anchor="start" font-weight="normal" textLength="42.7" lengthAdjust="spacingAndGlyphs" stroke="#3a3a3a" stroke-width="0.3">2,100.00</text><text x="1771.9" y="514.1" font-size="11.3" fill="#3a3a3a" text-anchor="start" font-weight="normal" textLength="42.7" lengthAdjust="spacingAndGlyphs" stroke="#3a3a3a" stroke-width="0.3">2,000.00</text><text x="1771.9" y="562.1" font-size="11.3" fill="#3a3a3a" text-anchor="start" font-weight="normal" textLength="42.7" lengthAdjust="spacingAndGlyphs" stroke="#3a3a3a" stroke-width="0.3">1,900.00</text><text x="1771.9" y="610.1" font-size="11.3" fill="#3a3a3a" text-anchor="start" font-weight="normal" textLength="42.7" lengthAdjust="spacingAndGlyphs" stroke="#3a3a3a" stroke-width="0.3">1,800.00</text><text x="1754.4" y="161.5" font-size="12" fill="#3333cc" text-anchor="end" font-weight="normal" stroke="#3333cc" stroke-width="0.3">1.618 (2,711.06)</text><text x="1754.4" y="271.5" font-size="12" fill="#9c3ad6" text-anchor="end" font-weight="normal" stroke="#9c3ad6" stroke-width="0.3">1.236 (2,482.87)</text><text x="1754.4" y="338.5" font-size="12" fill="#5aaee0" text-anchor="end" font-weight="normal" stroke="#5aaee0" stroke-width="0.3">1 (2,341.90)</text><text x="1754.4" y="387.5" font-size="12" fill="#d63f3f" text-anchor="end" font-weight="normal" stroke="#d63f3f" stroke-width="0.3">0.832 (2,241.55)</text><text x="1754.4" y="406.5" font-size="12" fill="#cc1f2a" text-anchor="end" font-weight="normal" stroke="#cc1f2a" stroke-width="0.3">0.764 (2,200.93)</text><text x="1754.4" y="448.5" font-size="12" fill="#33c28a" text-anchor="end" font-weight="normal" stroke="#33c28a" stroke-width="0.3">0.618 (2,113.72)</text><text x="1754.4" y="481.5" font-size="12" fill="#5a1f3f" text-anchor="end" font-weight="normal" stroke="#5a1f3f" stroke-width="0.3">0.5 (2,043.23)</text><text x="1754.4" y="557.5" font-size="12" fill="#d63f3f" text-anchor="end" font-weight="normal" stroke="#d63f3f" stroke-width="0.3">0.236 (1,885.53)</text><text x="1754.4" y="625.5" font-size="12" fill="#808080" text-anchor="end" font-weight="normal" stroke="#808080" stroke-width="0.3">0 (1,744.56)</text><path d="M1764,182.7 h52 a3,3 0 0 1 3,3 v10.2 a3,3 0 0 1 -3,3 h-52 z" fill="#ff0000"/><text x="1771.9" y="194.8" font-size="12" fill="#ffffff" text-anchor="start" font-weight="bold" textLength="42.7" lengthAdjust="spacingAndGlyphs">2,668.56</text><path d="M1764,236.7 h52 a3,3 0 0 1 3,3 v10.2 a3,3 0 0 1 -3,3 h-52 z" fill="#ff0000"/><text x="1771.9" y="248.8" font-size="12" fill="#ffffff" text-anchor="start" font-weight="bold" textLength="42.7" lengthAdjust="spacingAndGlyphs">2,555.84</text><path d="M1764,314.7 h52 a3,3 0 0 1 3,3 v10.2 a3,3 0 0 1 -3,3 h-52 z" fill="#ff0000"/><text x="1771.9" y="326.8" font-size="12" fill="#ffffff" text-anchor="start" font-weight="bold" textLength="42.7" lengthAdjust="spacingAndGlyphs">2,392.65</text><path d="M1764,412.7 h52 a3,3 0 0 1 3,3 v10.2 a3,3 0 0 1 -3,3 h-52 z" fill="#ff0000"/><text x="1771.9" y="424.8" font-size="12" fill="#ffffff" text-anchor="start" font-weight="bold" textLength="42.7" lengthAdjust="spacingAndGlyphs">2,190.93</text><path d="M1764,483.2 h52 a3,3 0 0 1 3,3 v10.2 a3,3 0 0 1 -3,3 h-52 z" fill="#ff0000"/><text x="1771.9" y="495.3" font-size="12" fill="#ffffff" text-anchor="start" font-weight="bold" textLength="42.7" lengthAdjust="spacingAndGlyphs">2,043.55</text><path d="M1764,592.2 h52 a3,3 0 0 1 3,3 v10.2 a3,3 0 0 1 -3,3 h-52 z" fill="#4caf50"/><text x="1771.9" y="604.3" font-size="12" fill="#ffffff" text-anchor="start" font-weight="bold" textLength="42.7" lengthAdjust="spacingAndGlyphs">1,814.42</text><path d="M1764,622.2 h52 a3,3 0 0 1 3,3 v10.2 a3,3 0 0 1 -3,3 h-52 z" fill="#4caf50"/><text x="1771.9" y="634.3" font-size="12" fill="#ffffff" text-anchor="start" font-weight="bold" textLength="42.7" lengthAdjust="spacingAndGlyphs">1,753.80</text><path d="M1764,646.2 h52 a3,3 0 0 1 3,3 v10.2 a3,3 0 0 1 -3,3 h-52 z" fill="#4caf50"/><text x="1771.9" y="658.3" font-size="12" fill="#ffffff" text-anchor="start" font-weight="bold" textLength="42.7" lengthAdjust="spacingAndGlyphs">1,702.67</text><path d="M1764,546 h51 a3,3 0 0 1 3,3 v23 a3,3 0 0 1 -3,3 h-51 z" fill="#ff0000"/><text x="1771.9" y="558.3" font-size="12" fill="#ffffff" text-anchor="start" font-weight="bold" textLength="42.7" lengthAdjust="spacingAndGlyphs">1,910.71</text><text x="1772.5" y="571.5" font-size="12" fill="#ffd6d6" text-anchor="start" font-weight="normal" textLength="27" lengthAdjust="spacingAndGlyphs" stroke="#ffd6d6" stroke-width="0.15">26:35</text><text x="1771.9" y="703.8" font-size="12" fill="#333333" text-anchor="start" font-weight="normal" textLength="27.4" lengthAdjust="spacingAndGlyphs" stroke="#333333" stroke-width="0.3">60.00</text><text x="1771.9" y="748.8" font-size="12" fill="#333333" text-anchor="start" font-weight="normal" textLength="27.4" lengthAdjust="spacingAndGlyphs" stroke="#333333" stroke-width="0.3">40.00</text><text x="1771.9" y="794.8" font-size="12" fill="#333333" text-anchor="start" font-weight="normal" textLength="27.4" lengthAdjust="spacingAndGlyphs" stroke="#333333" stroke-width="0.3">20.00</text><text x="18" y="686.5" font-size="12" fill="#4a4a4a" text-anchor="start" font-weight="normal" textLength="140.5" lengthAdjust="spacingAndGlyphs" stroke="#4a4a4a" stroke-width="0.3">RSI (14, close, SMA, 14, 2)</text><text x="165.7" y="686.5" font-size="12" fill="#9c27b0" text-anchor="start" font-weight="normal" textLength="29.7" lengthAdjust="spacingAndGlyphs" stroke="#9c27b0" stroke-width="0.3">39.06</text><text x="203.2" y="686.5" font-size="12" fill="#fde74c" text-anchor="start" font-weight="normal" textLength="29.1" lengthAdjust="spacingAndGlyphs" stroke="#fde74c" stroke-width="0.3">28.22</text><text x="240.8" y="686.5" font-size="12" fill="#4a4a4a" text-anchor="start" font-weight="normal" textLength="6.8" lengthAdjust="spacingAndGlyphs" stroke="#4a4a4a" stroke-width="0.3">Ø</text><text x="255.6" y="686.5" font-size="12" fill="#4a4a4a" text-anchor="start" font-weight="normal" textLength="6.8" lengthAdjust="spacingAndGlyphs" stroke="#4a4a4a" stroke-width="0.3">Ø</text><text x="33.8" y="842" font-size="11" fill="#333333" text-anchor="middle" font-weight="normal" stroke="#333333" stroke-width="0.3">30</text><text x="108.8" y="842" font-size="11" fill="#333333" text-anchor="middle" font-weight="normal" textLength="26.8" lengthAdjust="spacingAndGlyphs" stroke="#333333" stroke-width="0.3">12:00</text><text x="183.8" y="842" font-size="11" fill="#333333" text-anchor="middle" font-weight="normal" stroke="#333333" stroke-width="0.3">31</text><text x="259.8" y="842" font-size="11" fill="#333333" text-anchor="middle" font-weight="normal" textLength="26.8" lengthAdjust="spacingAndGlyphs" stroke="#333333" stroke-width="0.3">12:00</text><text x="334.8" y="842" font-size="11" fill="#333333" text-anchor="middle" font-weight="normal" textLength="18" lengthAdjust="spacingAndGlyphs" stroke="#333333" stroke-width="0.3">Feb</text><text x="410.8" y="842" font-size="11" fill="#333333" text-anchor="middle" font-weight="normal" textLength="26.8" lengthAdjust="spacingAndGlyphs" stroke="#333333" stroke-width="0.3">12:00</text><text x="485.8" y="842" font-size="11" fill="#333333" text-anchor="middle" font-weight="normal" stroke="#333333" stroke-width="0.3">2</text><text x="560.8" y="842" font-size="11" fill="#333333" text-anchor="middle" font-weight="normal" textLength="26.8" lengthAdjust="spacingAndGlyphs" stroke="#333333" stroke-width="0.3">12:00</text><text x="636.8" y="842" font-size="11" fill="#333333" text-anchor="middle" font-weight="normal" stroke="#333333" stroke-width="0.3">3</text><text x="711.8" y="842" font-size="11" fill="#333333" text-anchor="middle" font-weight="normal" textLength="26.8" lengthAdjust="spacingAndGlyphs" stroke="#333333" stroke-width="0.3">12:00</text><text x="786.8" y="842" font-size="11" fill="#333333" text-anchor="middle" font-weight="normal" stroke="#333333" stroke-width="0.3">4</text><text x="862.8" y="842" font-size="11" fill="#333333" text-anchor="middle" font-weight="normal" textLength="26.8" lengthAdjust="spacingAndGlyphs" stroke="#333333" stroke-width="0.3">12:00</text><text x="937.8" y="842" font-size="11" fill="#333333" text-anchor="middle" font-weight="normal" stroke="#333333" stroke-width="0.3">5</text><text x="1012.8" y="842" font-size="11" fill="#333333" text-anchor="middle" font-weight="normal" textLength="26.8" lengthAdjust="spacingAndGlyphs" stroke="#333333" stroke-width="0.3">12:00</text><text x="1088.8" y="842" font-size="11" fill="#333333" text-anchor="middle" font-weight="normal" stroke="#333333" stroke-width="0.3">6</text><text x="1163.8" y="842" font-size="11" fill="#333333" text-anchor="middle" font-weight="normal" textLength="26.8" lengthAdjust="spacingAndGlyphs" stroke="#333333" stroke-width="0.3">12:00</text><text x="1239.8" y="842" font-size="11" fill="#333333" text-anchor="middle" font-weight="normal" stroke="#333333" stroke-width="0.3">7</text><text x="1314.8" y="842" font-size="11" fill="#333333" text-anchor="middle" font-weight="normal" textLength="26.8" lengthAdjust="spacingAndGlyphs" stroke="#333333" stroke-width="0.3">12:00</text><text x="1389.8" y="842" font-size="11" fill="#333333" text-anchor="middle" font-weight="normal" stroke="#333333" stroke-width="0.3">8</text><text x="1465.8" y="842" font-size="11" fill="#333333" text-anchor="middle" font-weight="normal" textLength="26.8" lengthAdjust="spacingAndGlyphs" stroke="#333333" stroke-width="0.3">12:00</text><text x="1540.8" y="842" font-size="11" fill="#333333" text-anchor="middle" font-weight="normal" stroke="#333333" stroke-width="0.3">9</text><text x="1615.8" y="842" font-size="11" fill="#333333" text-anchor="middle" font-weight="normal" textLength="26.8" lengthAdjust="spacingAndGlyphs" stroke="#333333" stroke-width="0.3">12:00</text><text x="1691.8" y="842" font-size="11" fill="#333333" text-anchor="middle" font-weight="normal" stroke="#333333" stroke-width="0.3">10</text><circle cx="1101.5" cy="654.5" r="11.2" fill="#ffffff"/><circle cx="1101.5" cy="654.5" r="9.5" fill="none" stroke="#9c27b0" stroke-width="1.4"/><path d="M1104.9,649.2 L1097.0,655.0 L1101.0,655.0 L1098.2,660.1 L1105.9,653.6 L1102.0,653.6 Z" fill="#9c27b0" stroke="#9c27b0" stroke-width="0.5" stroke-linejoin="round"/><path d="M1091,652.6 Q1092.0,656.9 1096.3,657.9 Q1092.0,658.9 1091,663.2 Q1090.0,658.9 1085.7,657.9 Q1090.0,656.9 1091,652.6 Z" fill="#ffffff" stroke="#ffffff" stroke-width="3.2" stroke-linejoin="round"/><path d="M1091,652.6 Q1092.0,656.9 1096.3,657.9 Q1092.0,658.9 1091,663.2 Q1090.0,658.9 1085.7,657.9 Q1090.0,656.9 1091,652.6 Z" fill="#7048ff"/><path d="M11.9,875 H23.8 V890 H18.1 V880.2 H11.9 Z" fill="#131313"/><circle cx="29" cy="877.6" r="2.6" fill="#131313"/><path d="M33.7,875 H41.6 L36.8,890 H29.3 Z" fill="#131313"/><text x="49.2" y="890" font-size="20.5" fill="#131313" text-anchor="start" font-weight="bold" textLength="120.6" lengthAdjust="spacingAndGlyphs">TradingView</text></svg>
</body></html>
